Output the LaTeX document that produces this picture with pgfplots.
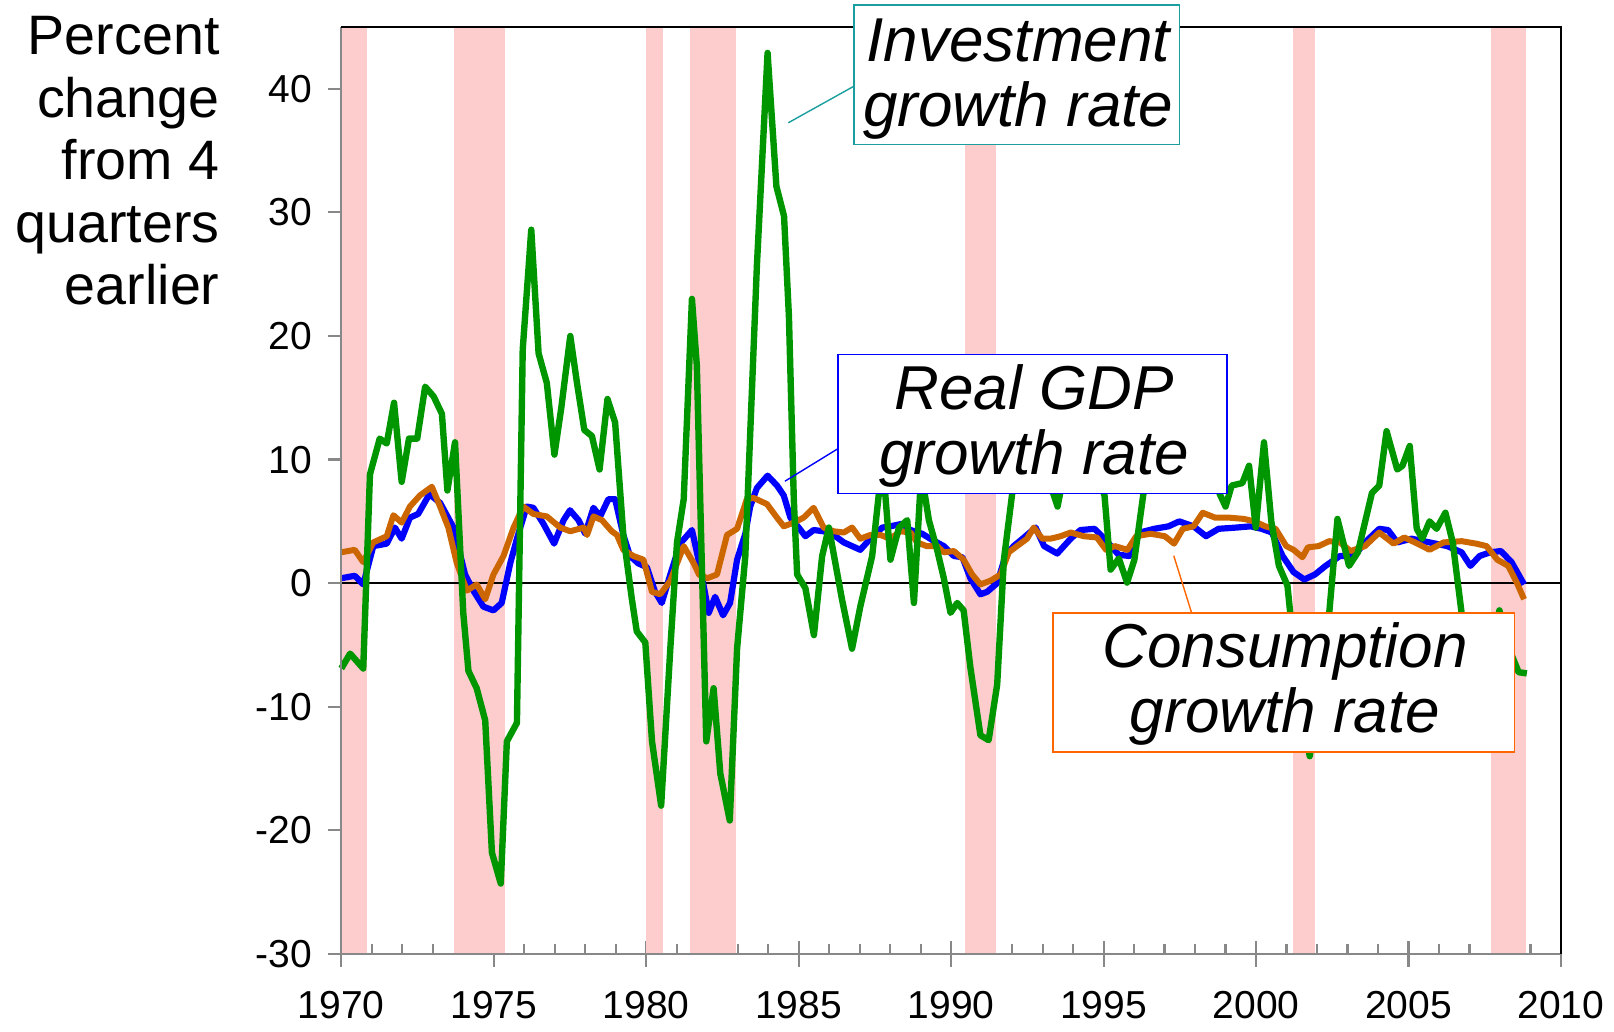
\documentclass[border=0pt]{standalone}
\usepackage{fontspec}
\setmainfont{Liberation Sans}
\usepackage{pgfplots}
\usepackage{pgfplotstable}
\pgfplotsset{compat=1.18}
\definecolor{recess}{RGB}{253,204,204}
\definecolor{invgreen}{RGB}{0,150,0}
\definecolor{consorange}{RGB}{204,102,0}
\definecolor{consbox}{RGB}{255,102,0}
\definecolor{invteal}{RGB}{26,158,158}
\definecolor{axgray}{RGB}{136,136,136}

\pgfplotstableread{
x y
1970.00 0.4
1970.44 0.6
1970.72 -0.1
1971.05 3.0
1971.49 3.2
1971.76 4.5
1971.98 3.6
1972.25 5.3
1972.52 5.6
1972.89 7.2
1973.24 6.5
1973.68 4.5
1974.06 0.7
1974.33 -0.6
1974.66 -1.9
1974.99 -2.2
1975.26 -1.6
1975.54 1.6
1975.76 3.6
1976.08 6.2
1976.30 6.1
1976.63 4.8
1976.98 3.2
1977.29 5.1
1977.50 5.9
1977.78 5.1
1978.00 4.0
1978.27 6.1
1978.49 5.4
1978.76 6.8
1978.98 6.8
1979.25 3.9
1979.47 2.2
1979.74 1.6
1980.02 1.3
1980.29 -0.7
1980.51 -1.6
1980.79 0.7
1981.11 3.2
1981.50 4.3
1981.77 1.3
1982.05 -2.4
1982.26 -1.1
1982.52 -2.6
1982.75 -1.6
1982.98 1.9
1983.25 4.0
1983.41 6.2
1983.63 7.7
1983.98 8.7
1984.29 7.9
1984.51 7.1
1984.73 5.3
1985.00 4.5
1985.22 3.8
1985.49 4.3
1985.82 4.2
1986.15 3.9
1986.48 3.3
1986.75 3.0
1987.02 2.7
1987.35 3.6
1987.74 4.5
1988.00 4.6
1988.39 4.8
1988.67 4.3
1989.05 4.0
1989.38 3.5
1989.76 3.0
1990.09 2.2
1990.37 2.1
1990.63 0.4
1990.96 -0.9
1991.18 -0.7
1991.51 0.0
1991.78 2.2
1992.05 3.0
1992.44 3.8
1992.77 4.5
1993.05 3.0
1993.48 2.4
1993.92 3.6
1994.24 4.3
1994.70 4.4
1995.03 3.6
1995.49 2.3
1995.84 2.2
1996.19 4.1
1996.66 4.4
1997.13 4.6
1997.48 5.0
1997.95 4.6
1998.36 3.8
1998.77 4.4
1999.35 4.5
1999.82 4.6
2000.18 4.4
2000.52 4.1
2000.87 2.2
2001.23 0.9
2001.58 0.3
2001.93 0.7
2002.28 1.4
2002.75 2.2
2003.22 2.2
2003.57 3.3
2004.04 4.4
2004.33 4.3
2004.63 3.3
2005.10 3.6
2005.69 3.3
2006.27 3.0
2006.74 2.5
2007.03 1.4
2007.33 2.2
2007.68 2.5
2008.03 2.6
2008.38 1.7
2008.79 -0.1
}\gdptable

\pgfplotstableread{
x y
1970.00 2.5
1970.44 2.7
1970.72 1.7
1971.05 3.3
1971.49 3.8
1971.71 5.5
1971.98 4.9
1972.25 6.2
1972.58 7.1
1972.97 7.8
1973.24 6.2
1973.51 4.5
1973.79 1.6
1974.12 -0.6
1974.44 -0.1
1974.72 -1.3
1974.99 0.7
1975.32 2.2
1975.65 4.5
1975.97 6.2
1976.30 5.6
1976.74 5.4
1977.18 4.5
1977.51 4.2
1977.95 4.5
1978.06 3.9
1978.27 5.4
1978.55 5.1
1978.87 4.2
1979.04 3.9
1979.25 2.7
1979.58 2.2
1979.91 1.9
1980.19 -0.7
1980.46 -0.9
1980.79 0.2
1981.23 3.0
1981.56 1.6
1981.73 0.7
1982.00 0.4
1982.32 0.7
1982.65 3.9
1982.98 4.4
1983.30 6.8
1983.52 6.9
1983.96 6.4
1984.29 5.3
1984.51 4.6
1984.84 4.9
1985.16 5.3
1985.49 6.1
1985.82 4.5
1986.15 4.2
1986.48 4.1
1986.75 4.5
1987.02 3.6
1987.35 3.9
1987.68 3.9
1988.00 3.6
1988.34 4.2
1988.67 4.1
1988.88 3.3
1989.20 3.0
1989.54 3.0
1989.76 2.5
1990.09 2.6
1990.41 1.9
1990.69 0.7
1990.96 -0.1
1991.29 0.2
1991.62 0.7
1991.89 2.5
1992.16 3.0
1992.49 3.6
1992.71 4.5
1992.99 3.6
1993.26 3.6
1993.59 3.8
1993.92 4.1
1994.35 3.8
1994.78 3.7
1995.08 2.7
1995.37 3.0
1995.78 2.7
1996.07 3.8
1996.54 4.0
1997.01 3.8
1997.31 3.2
1997.60 4.4
1997.95 4.6
1998.25 5.7
1998.66 5.3
1999.13 5.3
1999.60 5.2
1999.95 5.0
2000.30 4.6
2000.64 4.4
2000.99 3.0
2001.23 2.7
2001.52 2.1
2001.70 2.9
2002.05 3.0
2002.40 3.4
2002.75 3.3
2003.10 2.6
2003.57 3.0
2004.04 4.1
2004.51 3.2
2004.86 3.7
2005.21 3.3
2005.69 2.7
2006.15 3.3
2006.74 3.4
2007.22 3.2
2007.56 3.0
2007.91 1.9
2008.27 1.4
2008.55 0.05
2008.79 -1.3
}\constable

\pgfplotstableread{
x y
1970.00 -6.9
1970.29 -5.7
1970.72 -6.9
1970.94 8.8
1971.26 11.7
1971.49 11.3
1971.73 14.6
1971.98 8.2
1972.22 11.7
1972.49 11.7
1972.75 15.9
1973.03 15.1
1973.30 13.7
1973.48 7.5
1973.73 11.4
1974.00 -2.4
1974.17 -7.1
1974.44 -8.5
1974.72 -11.1
1974.94 -21.8
1975.23 -24.3
1975.43 -12.8
1975.76 -11.3
1975.95 18.9
1976.23 28.6
1976.47 18.6
1976.74 16.2
1976.99 10.4
1977.21 14.1
1977.51 20.0
1977.73 16.2
1977.97 12.4
1978.22 11.9
1978.47 9.2
1978.73 14.9
1978.98 13.0
1979.25 3.9
1979.53 -1.3
1979.69 -3.9
1979.97 -4.8
1980.19 -12.8
1980.49 -18.0
1980.79 -5.3
1981.01 3.3
1981.23 6.8
1981.50 23.0
1981.66 17.6
1981.97 -12.8
1982.21 -8.5
1982.43 -15.4
1982.74 -19.2
1982.98 -5.3
1983.25 2.2
1983.63 25.7
1983.98 42.9
1984.27 32.1
1984.52 29.7
1984.68 21.6
1984.84 6.8
1984.95 0.7
1985.22 -0.4
1985.50 -4.2
1985.77 2.2
1985.99 4.5
1986.42 -1.3
1986.75 -5.3
1987.02 -1.9
1987.41 2.2
1987.75 10.0
1988.01 1.9
1988.29 4.5
1988.56 5.1
1988.78 -1.6
1989.02 9.0
1989.27 5.1
1989.54 2.7
1989.76 0.4
1989.98 -2.4
1990.20 -1.6
1990.41 -2.2
1990.63 -6.8
1990.96 -12.3
1991.23 -12.7
1991.51 -8.2
1991.73 1.9
1992.00 7.2
1992.25 10.0
1992.50 11.0
1992.75 10.0
1993.00 9.0
1993.25 8.0
1993.49 6.2
1993.75 9.5
1994.00 12.0
1994.25 13.0
1994.50 12.0
1994.75 9.0
1995.03 7.1
1995.23 1.1
1995.50 2.0
1995.77 0.05
1996.01 1.9
1996.32 7.5
1996.50 9.0
1996.75 11.0
1997.00 10.0
1997.25 12.0
1997.50 11.0
1997.75 12.0
1998.00 13.0
1998.25 11.0
1998.50 9.0
1998.83 7.1
1999.00 6.2
1999.20 7.9
1999.55 8.1
1999.77 9.5
1999.99 4.5
2000.26 11.4
2000.50 5.0
2000.75 1.4
2001.03 -0.2
2001.12 -2.4
2001.35 -7.0
2001.55 -11.0
2001.76 -14.0
2002.00 -10.0
2002.20 -5.0
2002.40 -2.4
2002.67 5.2
2003.05 1.4
2003.34 2.5
2003.80 7.3
2004.04 7.9
2004.28 12.3
2004.63 9.2
2004.80 9.5
2005.04 11.1
2005.27 4.4
2005.45 3.6
2005.69 5.0
2005.92 4.4
2006.21 5.7
2006.45 3.3
2006.74 -2.4
2007.00 -6.0
2007.25 -9.0
2007.50 -8.0
2007.75 -5.0
2007.98 -2.2
2008.25 -5.0
2008.61 -7.2
2008.88 -7.3
}\invtable

\begin{document}
\begin{tikzpicture}
\path[use as bounding box] (-170.65pt,-39pt) rectangle (636.35pt,477pt);
\begin{axis}[
  scale only axis,
  width=609.85pt, height=463.5pt,
  xmin=1970, xmax=2010, ymin=-30, ymax=45,
  clip=false,
  no markers,
  axis line style={draw=none},
  xtick={1970,1975,...,2010},
  minor x tick num=4,
  ytick={-30,-20,-10,0,10,20,30,40},
  xtick pos=bottom, ytick pos=left,
  tick align=inside,
  major tick length=12.7pt, minor tick length=5pt,
  every tick/.style={axgray, line width=1.1pt},
  major x tick style={yshift=-6.35pt},
  y tick style={draw=none},
  /pgf/number format/assume math mode=true,
  /pgf/number format/1000 sep={},
  ticklabel style={font=\fontsize{19.5}{21}\selectfont},
  yticklabel style={xshift=-11pt},
  xticklabel style={yshift=-15pt},
]
% recession bands
\addplot[fill=recess, draw=none] coordinates {(1970.00,-30) (1970.00,45) (1970.83,45) (1970.83,-30)};
\addplot[fill=recess, draw=none] coordinates {(1973.70,-30) (1973.70,45) (1975.37,45) (1975.37,-30)};
\addplot[fill=recess, draw=none] coordinates {(1980.00,-30) (1980.00,45) (1980.54,45) (1980.54,-30)};
\addplot[fill=recess, draw=none] coordinates {(1981.44,-30) (1981.44,45) (1982.94,45) (1982.94,-30)};
\addplot[fill=recess, draw=none] coordinates {(1990.46,-30) (1990.46,45) (1991.46,45) (1991.46,-30)};
\addplot[fill=recess, draw=none] coordinates {(2001.21,-30) (2001.21,45) (2001.93,45) (2001.93,-30)};
\addplot[fill=recess, draw=none] coordinates {(2007.72,-30) (2007.72,45) (2008.85,45) (2008.85,-30)};
% zero line
\addplot[black, line width=0.8pt] coordinates {(1970,0) (2010,0)};
% series
\addplot[blue, line width=3.1pt, line join=round] table[x=x,y=y] {\gdptable};
\addplot[consorange, line width=3.0pt, line join=round] table[x=x,y=y] {\constable};
\addplot[invgreen, line width=3.2pt, line join=round] table[x=x,y=y] {\invtable};
% frame
\draw[axgray, line width=1.2pt] (rel axis cs:0,1) -- (rel axis cs:0,0) -- (rel axis cs:1,0);
\draw[black, line width=1pt] (rel axis cs:0,1) -- (rel axis cs:1,1) -- (rel axis cs:1,0);
\pgfplotsinvokeforeach{-30,-20,-10,0,10,20,30,40}{
  \draw[axgray, line width=1.1pt] (axis cs:1970,#1) -- ++(-6.5pt,0pt);
}
% annotation boxes
\draw[invteal, line width=0.7pt] (axis cs:1984.66,37.25) -- (axis cs:1986.82,40.22);
\draw[invteal, line width=0.8pt, fill=white] (axis cs:1986.82,35.49) rectangle (axis cs:1997.49,46.8);
\node[align=center, inner sep=0pt, font=\fontsize{31}{32.5}\selectfont\itshape] at (axis cs:1992.2,40.8) {Investment\\growth rate};

\draw[blue, line width=0.7pt] (axis cs:1984.55,8.25) -- (axis cs:1986.28,10.87);
\draw[blue, line width=0.8pt, fill=white] (axis cs:1986.28,7.26) rectangle (axis cs:1999.04,18.5);
\node[align=center, inner sep=0pt, font=\fontsize{31}{32.5}\selectfont\itshape] at (axis cs:1992.72,12.75) {Real GDP\\growth rate};

\draw[consbox, line width=0.7pt] (axis cs:1997.30,2.23) -- (axis cs:1997.89,-2.43);
\draw[consbox, line width=0.8pt, fill=white] (axis cs:1993.34,-13.68) rectangle (axis cs:2008.47,-2.43);
\node[align=center, inner sep=0pt, font=\fontsize{31}{32.5}\selectfont\itshape] at (axis cs:2000.95,-8.15) {Consumption\\growth rate};

% y label
\node[anchor=north east, align=right, inner sep=0pt, font=\fontsize{27.8}{31.25}\selectfont, xshift=-60.7pt, yshift=5.45pt] at (rel axis cs:0,1) {Percent\\change\\from 4\\quarters\\earlier};
\end{axis}
\end{tikzpicture}
\end{document}
